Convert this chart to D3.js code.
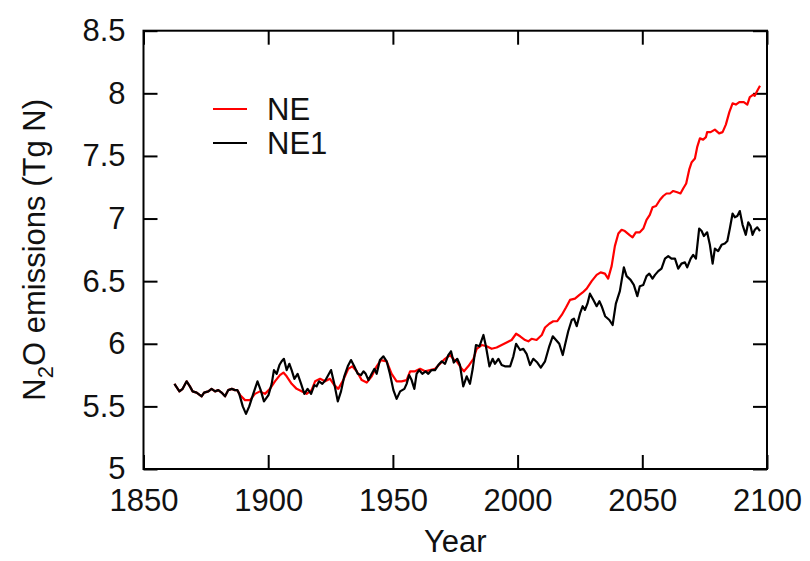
<!DOCTYPE html>
<html>
<head>
<meta charset="utf-8">
<script src="https://cdn.jsdelivr.net/npm/d3@7"></script>
<style>
  html, body { margin: 0; padding: 0; background: #fff; }
  svg text { font-family: "Liberation Sans", Arial, sans-serif; fill: #111; }
</style>
</head>
<body>
<svg id="chart" width="810" height="561"></svg>
<script>
// Annual N2O emissions, two scenarios (Tg N)
const neYears = [1862.4,1864.4,1865.7,1867.3,1868.6,1869.7,1871.3,1873.3,1874.3,1876.0,1877.3,1878.7,1880.0,1881.3,1882.7,1884.0,1885.4,1886.7,1887.6,
  1888.7,1890.7,1892.7,1894.7,1896.7,1898.7,1900.7,1902.7,1904.7,1906.1,1907.4,1909.4,1911.4,1913.4,1915.4,1917.4,1918.8,1920.8,1922.8,1924.8,1926.5,1928.1,
  1930.1,1932.1,1933.7,1935.5,1937.5,1939.5,1941.5,1943.5,1945.2,1947.5,1949.5,1951.5,1953.5,1955.5,1956.9,1958.9,1960.9,1962.9,1964.9,1966.9,1968.9,1970.9,
  1972.9,1974.6,1975.6,1977.6,1978.5,1980.2,1982.3,1983.6,1985.6,1987.6,1989.6,1991.6,1993.6,1995.6,1997.6,1999.4,2001.0,2003.0,2004.3,2005.6,2007.6,2009.7,
  2011.0,2012.7,2014.3,2015.9,2017.7,2019.4,2021.0,2023.0,2024.8,2026.1,2027.7,2029.7,2031.7,2033.3,2035.0,2036.3,2037.7,2039.0,2040.4,2041.7,2043.0,2044.8,
  2046.1,2047.4,2049.0,2050.4,2051.7,2053.0,2054.1,2055.5,2057.1,2058.4,2059.7,2061.1,2062.4,2064.0,2065.3,2066.4,2067.6,2068.8,2069.8,2071.1,2072.0,2073.1,
  2074.4,2075.5,2076.0,2077.4,2079.1,2080.8,2082.2,2083.5,2084.9,2086.2,2087.5,2088.9,2090.7,2092.1,2093.1,2094.5,2095.1,2096.1,2097.2];
const neValues = [5.68,5.62,5.64,5.70,5.66,5.62,5.61,5.58,5.61,5.62,5.64,5.62,5.63,5.61,5.58,5.63,5.64,5.63,5.63,
  5.59,5.55,5.55,5.60,5.62,5.60,5.64,5.70,5.75,5.77,5.74,5.68,5.64,5.62,5.60,5.63,5.70,5.72,5.70,5.72,5.67,5.64,
  5.71,5.80,5.82,5.78,5.71,5.69,5.74,5.82,5.87,5.86,5.76,5.70,5.70,5.71,5.78,5.78,5.80,5.78,5.79,5.80,5.84,5.88,
  5.91,5.87,5.86,5.80,5.78,5.82,5.88,5.96,5.99,5.98,5.96,5.97,5.99,6.01,6.03,6.08,6.06,6.03,6.02,6.04,6.03,6.07,
  6.13,6.16,6.18,6.18,6.23,6.29,6.35,6.36,6.39,6.41,6.44,6.50,6.55,6.57,6.56,6.52,6.62,6.78,6.88,6.91,6.90,6.87,
  6.85,6.89,6.89,6.92,6.99,7.03,7.09,7.10,7.15,7.18,7.20,7.20,7.22,7.21,7.20,7.24,7.28,7.39,7.45,7.48,7.57,7.64,
  7.63,7.65,7.69,7.69,7.71,7.68,7.69,7.75,7.85,7.92,7.91,7.93,7.93,7.91,7.97,7.99,7.98,8.02,8.06];

const ne1Years = [1862.4,1864.4,1865.7,1867.3,1868.6,1869.7,1871.3,1873.3,1874.3,1876.0,1877.3,1878.7,1880.0,1881.3,1882.7,1884.0,1885.4,1886.7,1887.6,
  1888.4,1889.8,1891.1,1892.4,1894.0,1895.7,1897.0,1898.3,1900.1,1901.4,1902.3,1903.4,1904.5,1905.4,1906.3,1907.4,1908.5,1909.4,1910.5,1911.8,1913.2,
  1914.5,1915.8,1917.2,1918.5,1919.4,1920.4,1921.7,1923.0,1924.1,1925.2,1926.5,1927.9,1929.2,1930.5,1931.9,1933.2,1934.5,1935.9,1937.2,1938.2,1939.1,
  1940.2,1941.5,1942.6,1943.5,1944.8,1946.2,1947.5,1948.8,1950.2,1951.5,1952.9,1954.6,1955.5,1956.5,1957.5,1958.6,1959.5,1960.5,1961.8,1963.1,1964.2,
  1965.5,1966.9,1968.2,1969.6,1970.9,1972.2,1973.3,1974.4,1975.8,1976.9,1978.2,1979.6,1980.9,1982.0,1983.3,1984.7,1986.3,1987.3,1988.7,1990.0,1990.9,
  1992.3,1993.6,1994.9,1997.0,1998.3,1999.4,2001.0,2002.3,2003.6,2005.0,2006.3,2007.9,2009.3,2011.0,2012.7,2014.1,2015.4,2016.7,2018.1,2019.0,2020.3,
  2021.7,2022.6,2023.7,2025.0,2026.1,2027.0,2028.0,2029.0,2030.4,2031.7,2032.8,2033.7,2035.1,2036.8,2038.1,2039.4,2041.0,2042.6,2043.7,2045.3,2046.6,
  2048.0,2049.0,2050.4,2051.7,2052.8,2054.1,2055.1,2056.4,2057.7,2059.1,2060.4,2061.7,2063.1,2064.4,2065.7,2067.1,2068.0,2069.4,2070.4,2071.5,2072.8,
  2073.8,2074.7,2076.0,2077.1,2078.2,2079.1,2080.4,2081.8,2083.1,2084.1,2085.1,2086.2,2087.1,2088.1,2089.1,2090.2,2091.5,2092.5,2093.4,2094.2,2095.1,
  2096.1,2097.2];
const ne1Values = [5.68,5.62,5.64,5.70,5.66,5.62,5.61,5.58,5.61,5.62,5.64,5.62,5.63,5.61,5.58,5.63,5.64,5.63,5.63,
  5.60,5.50,5.44,5.50,5.60,5.70,5.63,5.54,5.59,5.68,5.79,5.76,5.83,5.86,5.88,5.79,5.84,5.79,5.72,5.76,5.68,
  5.60,5.64,5.60,5.67,5.66,5.70,5.68,5.71,5.75,5.79,5.68,5.54,5.62,5.74,5.82,5.87,5.82,5.76,5.75,5.78,5.76,
  5.71,5.76,5.80,5.76,5.87,5.90,5.86,5.76,5.63,5.56,5.62,5.64,5.68,5.75,5.71,5.64,5.76,5.79,5.76,5.78,5.76,
  5.79,5.79,5.83,5.86,5.84,5.91,5.94,5.85,5.88,5.83,5.66,5.74,5.68,5.80,5.99,5.98,6.07,5.98,5.82,5.88,5.84,
  5.88,5.83,5.82,5.82,5.90,6.00,5.95,5.96,5.92,5.83,5.88,5.85,5.81,5.86,5.98,6.06,6.03,6.00,5.91,5.99,6.10,
  6.19,6.20,6.14,6.24,6.30,6.27,6.32,6.40,6.35,6.30,6.34,6.30,6.22,6.19,6.15,6.32,6.42,6.61,6.54,6.51,6.47,
  6.38,6.46,6.47,6.54,6.56,6.52,6.55,6.58,6.60,6.68,6.70,6.68,6.68,6.60,6.64,6.65,6.61,6.68,6.71,6.68,6.92,
  6.90,6.86,6.89,6.79,6.64,6.76,6.74,6.79,6.80,6.82,6.92,7.04,7.01,7.02,7.06,6.95,6.87,6.97,6.94,6.87,6.91,
  6.93,6.90];

const xTicks = [1850, 1900, 1950, 2000, 2050, 2100];
const yTicks = [5, 5.5, 6, 6.5, 7, 7.5, 8, 8.5];
const seriesNames = ["NE", "NE1"];
const seriesColors = ["#ff0000", "#000000"];

const svg = d3.select("#chart");
const plot = { left: 143.5, right: 767, top: 30.7, bottom: 469 };

const x = d3.scaleLinear().domain([1850, 2100]).range([plot.left, plot.right]);
const y = d3.scaleLinear().domain([5, 8.5]).range([plot.bottom, plot.top]);

const tickLen = 14;
const fontSize = 31;

// Axes: labelled bottom/left, mirrored inward ticks on top/right
const axisBottom = d3.axisBottom(x).tickValues(xTicks).tickFormat(d3.format("d"))
  .tickSizeInner(-tickLen).tickSizeOuter(0).tickPadding(20);
const axisLeft = d3.axisLeft(y).tickValues(yTicks).tickFormat(d => String(d))
  .tickSizeInner(-tickLen).tickSizeOuter(0).tickPadding(18);
const axisTop = d3.axisTop(x).tickValues(xTicks).tickFormat("").tickSizeInner(-tickLen).tickSizeOuter(0);
const axisRight = d3.axisRight(y).tickValues(yTicks).tickFormat("").tickSizeInner(-tickLen).tickSizeOuter(0);

function styleAxis(g) {
  g.select(".domain").remove();
  g.selectAll(".tick line").attr("stroke", "#000").attr("stroke-width", 2);
  g.selectAll(".tick text").attr("font-size", fontSize)
    .attr("font-family", "Liberation Sans, Arial, sans-serif").attr("fill", "#111");
}

svg.append("g").attr("transform", `translate(0,${plot.bottom})`).call(axisBottom).call(styleAxis);
svg.append("g").attr("transform", `translate(${plot.left},0)`).call(axisLeft).call(styleAxis);
svg.append("g").attr("transform", `translate(0,${plot.top})`).call(axisTop).call(styleAxis);
svg.append("g").attr("transform", `translate(${plot.right},0)`).call(axisRight).call(styleAxis);

// Series lines
const line = d3.line().x(d => x(d[0])).y(d => y(d[1]));
const neData = d3.zip(neYears, neValues);
const ne1Data = d3.zip(ne1Years, ne1Values);

svg.append("path").datum(neData).attr("d", line)
  .attr("fill", "none").attr("stroke", seriesColors[0]).attr("stroke-width", 2.2).attr("stroke-linejoin", "round");
svg.append("path").datum(ne1Data).attr("d", line)
  .attr("fill", "none").attr("stroke", seriesColors[1]).attr("stroke-width", 2.2).attr("stroke-linejoin", "round");

// Frame
svg.append("rect")
  .attr("x", plot.left).attr("y", plot.top)
  .attr("width", plot.right - plot.left).attr("height", plot.bottom - plot.top)
  .attr("fill", "none").attr("stroke", "#000").attr("stroke-width", 2);

// Legend
const legend = svg.append("g");
seriesNames.forEach((name, i) => {
  const ly = 109 + i * 34;
  legend.append("line").attr("x1", 213).attr("x2", 247).attr("y1", ly).attr("y2", ly)
    .attr("stroke", seriesColors[i]).attr("stroke-width", 2);
  legend.append("text").attr("x", 267).attr("y", ly + 11)
    .attr("font-size", fontSize).text(name);
});

// Axis titles
svg.append("text").attr("x", (plot.left + plot.right) / 2).attr("y", 552)
  .attr("text-anchor", "middle").attr("font-size", fontSize).text("Year");

const yTitle = svg.append("text")
  .attr("transform", `translate(45,${(plot.top + plot.bottom) / 2}) rotate(-90)`)
  .attr("text-anchor", "middle").attr("font-size", fontSize);
yTitle.append("tspan").text("N");
yTitle.append("tspan").attr("font-size", 22).attr("dy", 8).text("2");
yTitle.append("tspan").attr("dy", -8).text("O emissions (Tg N)");
</script>
</body>
</html>
